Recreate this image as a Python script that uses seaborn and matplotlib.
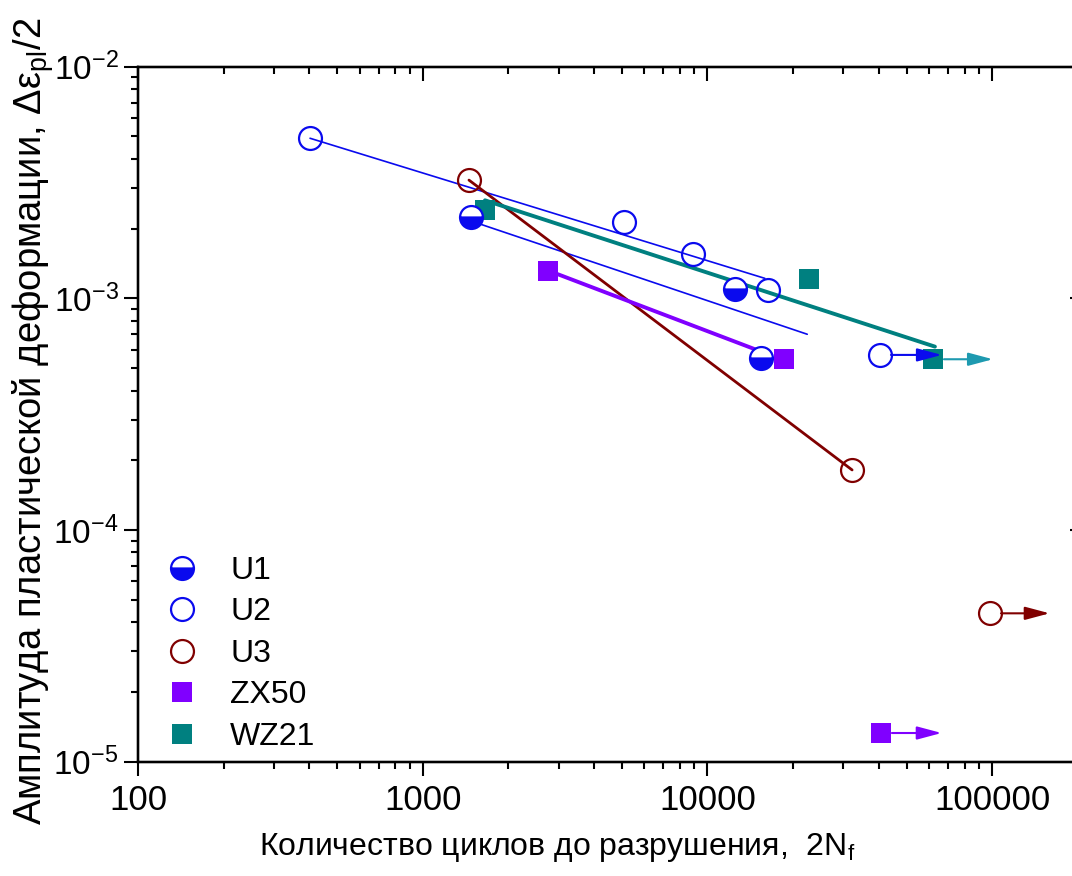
import numpy as np
import pandas as pd
import matplotlib
matplotlib.use('Agg')
import matplotlib.pyplot as plt
from matplotlib.ticker import FixedLocator, LogLocator, NullFormatter, FuncFormatter
import seaborn as sns

sns.set_theme(style='ticks')
plt.rcParams['font.family'] = ['Liberation Sans', 'DejaVu Sans']
plt.rcParams['mathtext.fontset'] = 'custom'
plt.rcParams['mathtext.rm'] = 'Liberation Sans'
plt.rcParams['mathtext.it'] = 'Liberation Sans:italic'
plt.rcParams['mathtext.default'] = 'regular'
plt.rcParams['axes.unicode_minus'] = False
plt.rcParams['text.color'] = 'black'
plt.rcParams['axes.labelcolor'] = 'black'
plt.rcParams['xtick.color'] = 'black'
plt.rcParams['ytick.color'] = 'black'

# --- data (N = 2Nf, eps = plastic strain amplitude) ---
U1_n = [1473, 12480, 15400]
U1_eps = [2.25e-3, 1.094e-3, 5.55e-4]
U2_n = [402, 5073, 8910, 16300, 40300]
U2_eps = [4.91e-3, 2.13e-3, 1.555e-3, 1.087e-3, 5.70e-4]
U3_n = [1453, 32200, 98100]
U3_eps = [3.24e-3, 1.817e-4, 4.37e-5]
ZX50_n = [2759, 18550, 40600]
ZX50_eps = [1.318e-3, 5.48e-4, 1.33e-5]
WZ21_n = [1654, 22700, 61850]
WZ21_eps = [2.41e-3, 1.213e-3, 5.46e-4]

# fitted lines (end points)
U1_fit_n = [1473, 22400]
U1_fit_eps = [2.16e-3, 7.0e-4]
U2_fit_n = [402, 15900]
U2_fit_eps = [4.91e-3, 1.22e-3]
U3_fit_n = [1453, 32200]
U3_fit_eps = [3.24e-3, 1.817e-4]
ZX50_fit_n = [2759, 16560]
ZX50_fit_eps = [1.318e-3, 5.70e-4]
WZ21_fit_n = [1654, 62900]
WZ21_fit_eps = [2.65e-3, 6.19e-4]

# run-outs: start N, end N of the arrow, strain level
runout_start = [40300, 98100, 40600, 61850]
runout_end = [66500, 159000, 66400, 100500]
runout_eps = [5.70e-4, 4.37e-5, 1.33e-5, 5.46e-4]

BLUE = '#0A0AEE'
RED = '#800000'
PURPLE = '#8000FF'
TEAL = '#008080'
CYAN = '#1E9AB0'
runout_colors = [BLUE, RED, PURPLE, CYAN]

XMIN, XMAX = 100, 2.1e5
YMIN, YMAX = 1e-5, 1e-2

W, H = 1072, 876
fig = plt.figure(figsize=(W / 100, H / 100), dpi=100)
left, right, top, bottom = 138, 1084, 66.7, 761.7
ax = fig.add_axes([left / W, 1 - bottom / H, (right - left) / W, (bottom - top) / H])

# fit lines
fits = [
    (U1_fit_n, U1_fit_eps, BLUE, 1.2),
    (U2_fit_n, U2_fit_eps, BLUE, 1.2),
    (U3_fit_n, U3_fit_eps, RED, 2.0),
    (ZX50_fit_n, ZX50_fit_eps, PURPLE, 2.8),
    (WZ21_fit_n, WZ21_fit_eps, TEAL, 2.8),
]
for xs, ys, c, lw in fits:
    d = pd.DataFrame({'n': xs, 'eps': ys})
    sns.lineplot(data=d, x='n', y='eps', color=c, lw=lw, ax=ax, legend=False,
                 estimator=None, sort=False, zorder=2)

ms_c, ms_s, mew = 16.5, 14, 1.6
h1, = ax.plot(U1_n, U1_eps, ls='', marker='o', ms=ms_c, mew=mew, fillstyle='bottom',
              mfc=BLUE, mfcalt='white', mec=BLUE, label='U1', zorder=4)
h2, = ax.plot(U2_n, U2_eps, ls='', marker='o', ms=ms_c, mew=mew, mfc='none',
              mec=BLUE, label='U2', zorder=4)
h3, = ax.plot(U3_n, U3_eps, ls='', marker='o', ms=ms_c, mew=mew, mfc='none',
              mec=RED, label='U3', zorder=4)
h4, = ax.plot(ZX50_n, ZX50_eps, ls='', marker='s', ms=ms_s, mew=0, mfc=PURPLE,
              label='ZX50', zorder=3)
h5, = ax.plot(WZ21_n, WZ21_eps, ls='', marker='s', ms=ms_s, mew=0, mfc=TEAL,
              label='WZ21', zorder=3)

# run-out arrows
for x0, x1, y, c in zip(runout_start, runout_end, runout_eps, runout_colors):
    ax.annotate('', xy=(x1, y), xytext=(x0, y),
                arrowprops=dict(arrowstyle='-|>,head_length=0.75,head_width=0.2',
                                color=c, lw=1.5, shrinkA=8, shrinkB=0,
                                mutation_scale=20), zorder=5)

ax.set_xscale('log')
ax.set_yscale('log')
ax.set_xlim(XMIN, XMAX)
ax.set_ylim(YMIN, YMAX)

xticks = [100, 1000, 10000, 100000]
ax.xaxis.set_major_locator(FixedLocator(xticks))
ax.xaxis.set_major_formatter(FuncFormatter(lambda v, p: f'{v:.0f}'))
ax.xaxis.set_minor_locator(LogLocator(base=10, subs=np.arange(2, 10)))
ax.xaxis.set_minor_formatter(NullFormatter())
ax.yaxis.set_major_locator(LogLocator(base=10))
ax.yaxis.set_minor_locator(LogLocator(base=10, subs=np.arange(2, 10)))
ax.yaxis.set_minor_formatter(NullFormatter())

ax.tick_params(which='major', direction='out', length=10, width=1.5, pad=6)
ax.tick_params(axis='x', which='major', labelsize=25)
ax.tick_params(axis='y', which='major', labelsize=24, pad=4)
ax.tick_params(which='minor', direction='out', length=5, width=1.5)
for s in ax.spines.values():
    s.set_linewidth(1.6)
    s.set_color('black')

# mirrored inward ticks on top and right
axt = ax.twiny()
axt.set_xscale('log')
axt.set_xlim(XMIN, XMAX)
axt.xaxis.set_major_locator(FixedLocator(xticks))
axt.xaxis.set_minor_locator(LogLocator(base=10, subs=np.arange(2, 10)))
axt.tick_params(axis='x', which='major', direction='in', length=10, width=1.5, labeltop=False)
axt.tick_params(axis='x', which='minor', direction='in', length=5, width=1.5)
axr = ax.twinx()
axr.set_yscale('log')
axr.set_ylim(YMIN, YMAX)
axr.yaxis.set_minor_locator(LogLocator(base=10, subs=np.arange(2, 10)))
axr.tick_params(axis='y', which='major', direction='in', length=10, width=1.5, labelright=False)
axr.tick_params(axis='y', which='minor', direction='in', length=5, width=1.5)
for a in (axt, axr):
    for s in a.spines.values():
        s.set_linewidth(1.6)
        s.set_color('black')
ax.set_zorder(3)
ax.patch.set_visible(False)

ax.set_xlabel('Количество циклов до разрушения,  2N$_{f}$', fontsize=23)
ax.xaxis.set_label_coords(0.443, -0.1)
ax.set_ylabel('Амплитуда пластической деформации, Δε$_{pl}$/2', fontsize=27.5)
ax.yaxis.set_label_coords(-0.087, 0.49)

ax.legend(handles=[h1, h2, h3, h4, h5], loc='lower left', bbox_to_anchor=(0.0298, 0.0144),
          frameon=False, fontsize=23, handlelength=1.0, handletextpad=1.0,
          labelspacing=0.36, borderaxespad=0, borderpad=0)

fig.savefig('out.png', dpi=100)
